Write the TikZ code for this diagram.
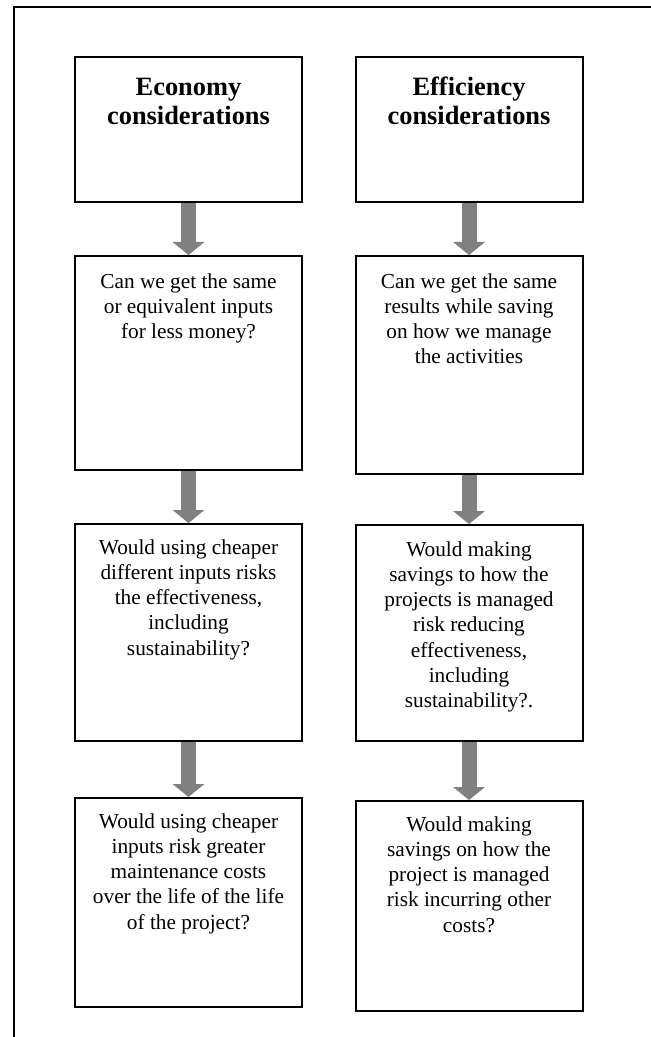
\documentclass[tikz,border=0pt]{standalone}
\usepackage{fontspec}
\setmainfont{Liberation Serif}
\usetikzlibrary{arrows.meta}
\definecolor{arrowgray}{RGB}{128,128,128}
\begin{document}
\begin{tikzpicture}[x=0.5pt,y=-0.5pt,
  box/.style={draw=black, line width=1pt, minimum width=113.5pt, inner sep=0pt},
  bodytext/.style={anchor=north, align=center, inner sep=0pt, font=\fontsize{10.65pt}{12.6pt}\selectfont},
  titletext/.style={anchor=north, align=center, inner sep=0pt, font=\fontsize{13.2pt}{14.5pt}\selectfont\bfseries},
  flow/.style={draw=arrowgray, line width=7.5pt, -{Triangle[width=16pt,length=6.5pt,line width=0pt]}},
  frame/.style={draw=black, line width=1pt, line join=miter}
]
\useasboundingbox (0,0) rectangle (651,1037);
% outer frame (only left and top edges visible)
\coordinate (fBL) at (14,1037);
\coordinate (fTL) at (14,7);
\coordinate (fTR) at (651,7);
\draw[frame] (fBL) -- (fTL) -- (fTR);

% left column
\node[box, minimum height=72.5pt] (L1) at (188.5,129.5) {};
\node[box, minimum height=107pt]  (L2) at (188.5,363) {};
\node[box, minimum height=108.5pt] (L3) at (188.5,632.5) {};
\node[box, minimum height=104.5pt] (L4) at (188.5,902.5) {};
% right column
\node[box, minimum height=72.5pt] (R1) at (469,129.5) {};
\node[box, minimum height=109pt]  (R2) at (469,365) {};
\node[box, minimum height=108pt]  (R3) at (469,633) {};
\node[box, minimum height=105pt]  (R4) at (469,906) {};

% texts
\node[titletext] (L1t) at ([yshift=-9.3pt]L1.north) {\strut Economy\\considerations};
\node[titletext] (R1t) at ([yshift=-9.3pt]R1.north) {\strut Efficiency\\considerations};
\node[bodytext] (L2t) at ([yshift=-7.6pt]L2.north) {\strut Can we get the same\\or equivalent inputs\\for less money?};
\node[bodytext] (R2t) at ([yshift=-7.6pt]R2.north) {\strut Can we get the same\\results while saving\\on how we manage\\the activities};
\node[bodytext] (L3t) at ([yshift=-6.6pt]L3.north) {\strut Would using cheaper\\different inputs risks\\the effectiveness,\\including\\sustainability?};
\node[bodytext] (R3t) at ([yshift=-7.1pt]R3.north) {\strut Would making\\savings to how the\\projects is managed\\risk reducing\\effectiveness,\\including\\sustainability?.};
\node[bodytext] (L4t) at ([yshift=-6.6pt]L4.north) {\strut Would using cheaper\\inputs risk greater\\maintenance costs\\over the life of the life\\of the project?};
\node[bodytext] (R4t) at ([yshift=-6.6pt]R4.north) {\strut Would making\\savings on how the\\project is managed\\risk incurring other\\costs?};

% arrows
\draw[flow] (L1.south) -- (L2.north);
\draw[flow] (L2.south) -- (L3.north);
\draw[flow] (L3.south) -- (L4.north);
\draw[flow] (R1.south) -- (R2.north);
\draw[flow] (R2.south) -- (R3.north);
\draw[flow] (R3.south) -- (R4.north);
\end{tikzpicture}
\end{document}
